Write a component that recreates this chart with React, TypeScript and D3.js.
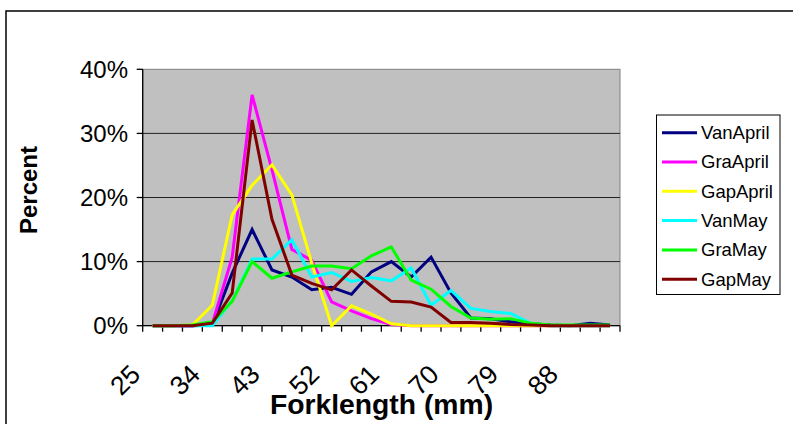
import React from "react";
import * as d3 from "d3";

const categories = [25, 28, 31, 34, 37, 40, 43, 46, 49, 52, 55, 58, 61, 64, 67, 70, 73, 76, 79, 82, 85, 88, 91, 94];
const tickLabels = ["25", "34", "43", "52", "61", "70", "79", "88"];
const yTicks = [0, 0.1, 0.2, 0.3, 0.4];

const vanApril = [0, 0, 0, 0.1, 8.2, 15.0, 8.7, 7.6, 5.6, 6.0, 4.9, 8.4, 10.0, 7.6, 10.7, 5.1, 1.2, 1.1, 0.6, 0.3, 0.1, 0, 0.4, 0.1];
const graApril = [0, 0, 0, 0.3, 10.7, 36.0, 24.3, 11.9, 10.2, 3.7, 2.3, 1.1, 0.2, 0, 0, 0, 0, 0, 0, 0, 0, 0, 0, 0];
const gapApril = [0, 0, 0.1, 3.2, 17.3, 21.9, 25.1, 20.4, 9.8, 0, 3.1, 1.8, 0.3, 0, 0, 0, 0, 0, 0, 0, 0, 0, 0, 0];
const vanMay = [0, 0, 0, 0, 3.9, 10.4, 10.4, 13.4, 7.6, 8.3, 6.9, 7.5, 7.0, 9.0, 3.2, 5.5, 2.7, 2.2, 1.9, 0.4, 0, 0, 0, 0];
const graMay = [0, 0, 0.1, 0.6, 3.8, 10.0, 7.4, 8.4, 9.3, 9.3, 8.9, 10.9, 12.3, 7.1, 5.7, 3.0, 1.2, 1.0, 1.1, 0.4, 0.1, 0.1, 0.1, 0.1];
const gapMay = [0, 0, 0, 0.4, 5.1, 32.1, 16.6, 7.9, 6.6, 5.6, 8.7, 6.2, 3.8, 3.7, 2.9, 0.5, 0.5, 0.4, 0.2, 0.1, 0, 0, 0, 0];

const seriesNames = ["VanApril", "GraApril", "GapApril", "VanMay", "GraMay", "GapMay"];
const seriesValues = [vanApril, graApril, gapApril, vanMay, graMay, gapMay];
const seriesColors = ["#000080", "#FF00FF", "#FFFF00", "#00FFFF", "#00FF00", "#800000"];

const FONT = "'Liberation Sans', Arial, sans-serif";

export default function App() {
  const W = 793, H = 424;
  const left = 142.7, right = 620, top = 69.3, bottom = 325.7;
  const x = d3.scaleBand<number>().domain(categories).range([left, right]).padding(0);
  const bw = x.bandwidth();
  const cx = (c: number) => (x(c) as number) + bw / 2;
  const y = d3.scaleLinear().domain([0, 0.4]).range([bottom, top]);
  const fmt = d3.format(".0%");

  const line = d3
    .line<number>()
    .x((_, i) => cx(categories[i]))
    .y((v) => y(v / 100));

  const boundaries = categories.map((c) => x(c) as number).concat([right]);

  const legX = 656.5, legY = 115, legW = 123.5, legH = 179.5;
  const rowY = (i: number) => 132.7 + i * 29.3;

  return (
    <svg width={W} height={H} style={{ position: "absolute", left: 0, top: 0, background: "#fff" }}>
      <rect x={0} y={0} width={W} height={H} fill="#fff" />
      <rect x={6} y={11} width={900} height={600} fill="none" stroke="#000" strokeWidth={1.5} />
      <rect x={left} y={top} width={right - left} height={bottom - top} fill="#C0C0C0" stroke="#808080" strokeWidth={1} />
      {yTicks.slice(1, -1).map((t) => (
        <line key={"g" + t} x1={left} x2={right} y1={y(t)} y2={y(t)} stroke="#222" strokeWidth={1} />
      ))}
      <line x1={left} x2={left} y1={top} y2={bottom} stroke="#000" strokeWidth={1.3} />
      <line x1={left} x2={right} y1={bottom} y2={bottom} stroke="#000" strokeWidth={1.3} />
      {yTicks.map((t) => (
        <g key={"yt" + t}>
          <line x1={left - 6} x2={left} y1={y(t)} y2={y(t)} stroke="#000" strokeWidth={1.3} />
          <text x={128} y={y(t)} dy="0.35em" textAnchor="end" fontFamily={FONT} fontSize={24} fill="#000">
            {fmt(t)}
          </text>
        </g>
      ))}
      {boundaries.map((b, i) => (
        <line key={"xt" + i} x1={b} x2={b} y1={bottom} y2={bottom + 6} stroke="#000" strokeWidth={1.3} />
      ))}
      {tickLabels.map((lab) => {
        const px = cx(+lab) - 10.6;
        const py = 376;
        return (
          <text
            key={"xl" + lab}
            x={px}
            y={py}
            textAnchor="end"
            fontFamily={FONT}
            fontSize={26.5}
            transform={`rotate(-45, ${px}, ${py})`}
            fill="#000"
          >
            {lab}
          </text>
        );
      })}
      {seriesValues.map((vals, si) => (
        <path key={"s" + si} d={line(vals) || ""} fill="none" stroke={seriesColors[si]} strokeWidth={3} strokeLinejoin="miter" />
      ))}
      <text x={381.5} y={414} textAnchor="middle" fontFamily={FONT} fontWeight="bold" fontSize={28.3} fill="#000">
        Forklength (mm)
      </text>
      <text
        x={0}
        y={0}
        transform={`translate(37, 190) rotate(-90)`}
        textAnchor="middle"
        fontFamily={FONT}
        fontWeight="bold"
        fontSize={24}
        fill="#000"
      >
        Percent
      </text>
      <rect x={legX} y={legY} width={legW} height={legH} fill="#fff" stroke="#000" strokeWidth={1} />
      {seriesNames.map((n, i) => (
        <g key={"lg" + n}>
          <line x1={662} x2={697} y1={rowY(i)} y2={rowY(i)} stroke={seriesColors[i]} strokeWidth={3} />
          <text x={701} y={rowY(i)} dy="0.35em" fontFamily={FONT} fontSize={18.5} fill="#000">
            {n}
          </text>
        </g>
      ))}
    </svg>
  );
}
